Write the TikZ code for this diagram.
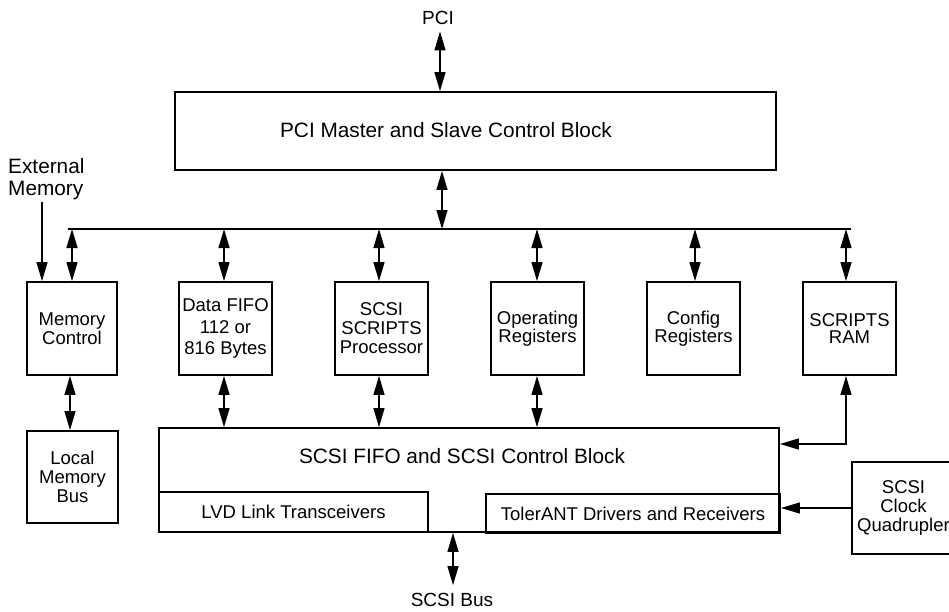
\documentclass[tikz,border=0pt]{standalone}
\usepackage{fontspec}
\setmainfont{Liberation Sans}
\usetikzlibrary{arrows.meta}
\begin{document}
\begin{tikzpicture}[x=1pt,y=-1pt,
  box/.style={draw, line width=1.8pt, inner sep=0pt, align=center,
    font=\fontsize{18.5}{19}\selectfont},
  lbl/.style={inner sep=0pt, align=center, font=\fontsize{18.5}{19}\selectfont},
  big/.style={inner sep=0pt, align=center, font=\fontsize{20.8}{22}\selectfont},
  conn/.style={line width=1.3pt, {Triangle[length=19pt,width=11pt]}-{Triangle[length=19pt,width=11pt]}},
  oneway/.style={line width=1.3pt, -{Triangle[length=19pt,width=11pt]}},
  busline/.style={line width=2pt}]
\useasboundingbox (0,0) rectangle (949,611);

% top
\node[lbl, font=\fontsize{19}{20}\selectfont] (pcil) at (438,17.5) {PCI};
\node[box, minimum width=601pt, minimum height=78pt] (pcib) at (475.5,131) {};
\node[big] (pcit) at (446,130) {PCI Master and Slave Control Block};

% bus
\coordinate (busL) at (68,229);
\coordinate (busR) at (851,229);
\draw[busline] (busL) -- (busR);

% external memory
\node[big, align=left, anchor=west] (extm) at (8,179) {External\\Memory};

% row of boxes
\node[box, minimum width=90pt, minimum height=93pt] (memc) at (72,328.5) {Memory\\Control};
\node[box, minimum width=93pt, minimum height=93pt, font=\fontsize{18.5}{21.5}\selectfont] (fifo) at (225.5,328.5) {Data FIFO\\112 or\\816 Bytes};
\node[box, minimum width=93pt, minimum height=93pt] (proc) at (381.5,328.5) {SCSI\\SCRIPTS\\Processor};
\node[box, minimum width=93pt, minimum height=93pt, font=\fontsize{18.5}{17.5}\selectfont] (opreg) at (537.5,328.5) {Operating\\Registers};
\node[box, minimum width=93pt, minimum height=93pt, font=\fontsize{18.5}{17.5}\selectfont] (cfg) at (693.5,328.5) {Config\\Registers};
\node[box, minimum width=93pt, minimum height=93pt, font=\fontsize{18.5}{17.5}\selectfont] (ram) at (849.5,328.5) {SCRIPTS\\RAM};

% lower
\node[box, minimum width=91pt, minimum height=92pt] (lmb) at (72.5,477) {Local\\Memory\\Bus};
\node[box, minimum width=620pt, minimum height=104pt] (scsib) at (469,480) {};
\node[big] (scsit) at (462,456) {SCSI FIFO and SCSI Control Block};
\node[box, minimum width=269pt, minimum height=40pt] (lvd) at (293.5,512) {LVD Link Transceivers};
\node[box, minimum width=294pt, minimum height=39pt] (tol) at (633,513.5) {TolerANT Drivers and Receivers};
\node[box, minimum width=103pt, minimum height=92pt] (clk) at (903.5,508) {SCSI\\Clock\\Quadrupler};
\node[lbl, font=\fontsize{19}{20}\selectfont] (sbus) at (452,600) {SCSI Bus};

% connectors
\draw[conn] ([yshift=-7pt]pcil.south -| 440,0) -- (pcib.north -| 440,0);
\draw[conn] (pcib.south -| 442,0) -- (busL -| 442,0);
\coordinate (extA) at (42,202);
\draw[oneway] (extA) -- (memc.north -| extA);
\draw[conn] (busL -| memc.north) -- (memc.north);
\draw[conn] (busL -| 224,0) -- (fifo.north -| 224,0);
\draw[conn] (busL -| 379,0) -- (proc.north -| 379,0);
\draw[conn] (busL -| 537,0) -- (opreg.north -| 537,0);
\draw[conn] (busL -| 695,0) -- (cfg.north -| 695,0);
\draw[conn] (busL -| 846,0) -- (ram.north -| 846,0);

\draw[conn] (memc.south -| 70,0) -- (lmb.north -| 70,0);
\draw[conn] (fifo.south -| 224,0) -- (scsib.north -| 224,0);
\draw[conn] (proc.south -| 379,0) -- (scsib.north -| 379,0);
\draw[conn] (opreg.south -| 537,0) -- (scsib.north -| 537,0);

\draw[conn] (ram.south -| 846,0) |- (scsib.east |- 0,444);
\draw[oneway] (clk.west) -- (tol.east |- clk.west);
\draw[conn] (scsib.south -| 453,0) -- ([yshift=8pt]sbus.north -| 453,0);
\end{tikzpicture}
\end{document}
